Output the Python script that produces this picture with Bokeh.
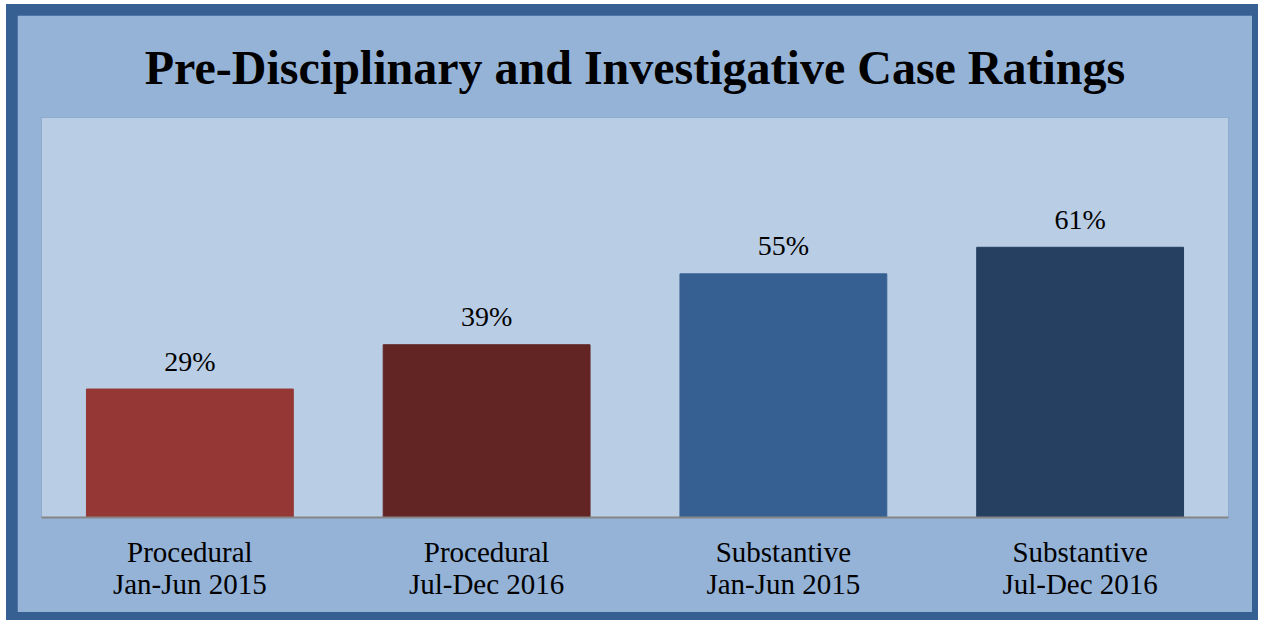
from bokeh.plotting import figure
from bokeh.models import ColumnDataSource, FactorRange
from bokeh.layouts import column
from bokeh.core.properties import value
from bokeh.embed import file_html
from bokeh.resources import INLINE

categories = ["Procedural\nJan-Jun 2015", "Procedural\nJul-Dec 2016",
              "Substantive\nJan-Jun 2015", "Substantive\nJul-Dec 2016"]
ratings = [29, 39, 55, 61]
labels = ["29%", "39%", "55%", "61%"]
colors = ["#953735", "#632523", "#376092", "#254061"]

src = ColumnDataSource(dict(cat=categories, val=ratings, lab=labels, col=colors))

p = figure(x_range=FactorRange(*categories), y_range=(0, 90.3),
           width=1235, height=597, output_backend="svg", toolbar_location=None,
           min_border_left=24, min_border_right=24, min_border_top=102, min_border_bottom=95)
p.background_fill_color = "#b9cde5"
p.border_fill_color = "#95b3d7"
p.outline_line_color = None
p.grid.grid_line_color = None
p.yaxis.visible = False
p.x_range.range_padding = 0
p.x_range.factor_padding = 0

p.vbar(x="cat", top="val", width=0.697, color="col", source=src)
p.text(x="cat", y="val", text="lab", source=src, text_align="center",
       text_baseline="alphabetic", y_offset=-28,
       text_font=value("Liberation Serif"), text_font_size="28px", text_color="black")

ax = p.xaxis[0]
ax.axis_line_color = "#868686"
ax.axis_line_width = 2
ax.major_tick_line_color = None
ax.minor_tick_line_color = None
ax.major_label_text_font = "Liberation Serif"
ax.major_label_text_font_size = "29px"
ax.major_label_text_color = "black"
ax.major_label_standoff = 12
ax.major_label_text_line_height = 1.0

p.title.text = "Pre-Disciplinary and Investigative Case Ratings"
p.title.align = "center"
p.title.text_font = "Liberation Serif"
p.title.text_font_style = "bold"
p.title.text_font_size = "48px"
p.title.text_color = "black"
p.title.standoff = 47

lay = column(p, styles={"background-color": "#376092", "padding": "11px 6px 8px 11px",
                        "margin": "4px 0px 0px 6px"})

open("out.html", "w").write(file_html(lay, INLINE))
